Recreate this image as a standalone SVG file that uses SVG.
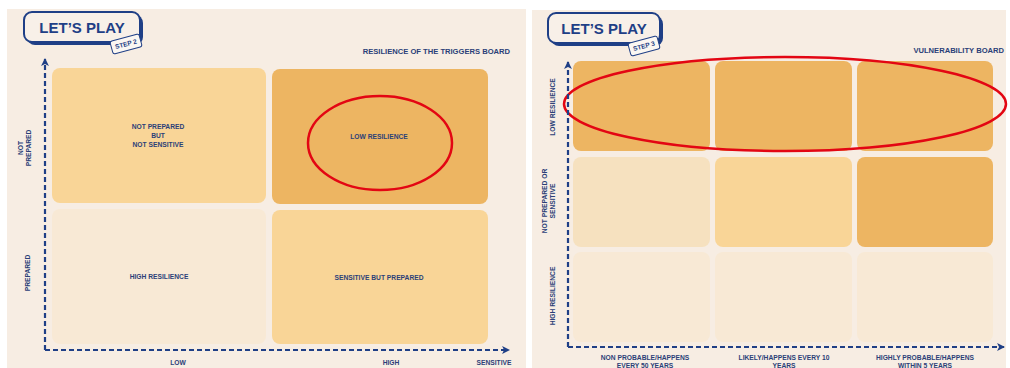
<svg xmlns="http://www.w3.org/2000/svg" width="1010" height="368" viewBox="0 0 1010 368">
<defs>
<style>
.panel{fill:#F7EDE3}
.dark{fill:#EDB562}
.mid{fill:#F9D597}
.light{fill:#F6E1BF}
.pale{fill:#F8E9D5}
.lbl{font-family:"Liberation Sans",Arial,sans-serif;font-weight:bold;font-size:6.7px;fill:#2B3F78;text-anchor:middle}
.title{font-family:"Liberation Sans",Arial,sans-serif;font-weight:bold;font-size:7.6px;fill:#2B3F78;text-anchor:end}
.badge{font-family:"Liberation Sans",Arial,sans-serif;font-weight:bold;font-size:15px;fill:#1F3F86;text-anchor:middle}
.step{font-family:"Liberation Sans",Arial,sans-serif;font-weight:bold;font-size:6.5px;fill:#1F3F86;text-anchor:middle}
.axis{fill:none;stroke:#1F3F86;stroke-width:2.2;stroke-dasharray:5 3}
.ring{fill:none;stroke:#E30613;stroke-width:2.5}
</style>
<marker id="arr" viewBox="0 0 10 10" refX="8" refY="5" markerWidth="4.5" markerHeight="4.5" orient="auto" markerUnits="strokeWidth">
<path d="M1,1 L9,5 L1,9 L3,5 Z" fill="#1F3F86"/>
</marker>
</defs>
<rect width="1010" height="368" fill="#FFFFFF"/>
<rect class="panel" x="7" y="9" width="519" height="359"/>
<rect class="panel" x="532" y="10" width="474" height="358"/>

<!-- Left panel -->
<g id="badge-left">
<rect x="27" y="15" width="116" height="30" rx="8" fill="#1F3F86"/>
<rect x="24" y="12" width="116" height="30" rx="8" fill="#F8F0E8" stroke="#1F3F86" stroke-width="2"/>
<text class="badge" x="82" y="33">LET’S PLAY</text>
<g transform="translate(126,44) rotate(-15)">
<rect x="-15" y="-6.5" width="30" height="13" rx="2" fill="#FBF7F2" stroke="#1F3F86" stroke-width="1"/>
<text class="step" x="0" y="2.3">STEP 2</text>
</g>
</g>
<text class="title" x="510" y="54">RESILIENCE OF THE TRIGGERS BOARD</text>

<g id="q-not-prepared-not-sensitive">
<rect class="mid" x="52" y="68" width="214" height="135" rx="8"/>
<text class="lbl" x="158" y="129">NOT PREPARED</text>
<text class="lbl" x="158" y="138">BUT</text>
<text class="lbl" x="158" y="147">NOT SENSITIVE</text>
</g>
<g id="q-low-resilience">
<rect class="dark" x="272" y="69" width="216" height="135" rx="8"/>
<text class="lbl" x="379" y="139">LOW RESILIENCE</text>
</g>
<g id="q-high-resilience">
<rect class="pale" x="52" y="209" width="214" height="135" rx="8"/>
<text class="lbl" x="159" y="279">HIGH RESILIENCE</text>
</g>
<g id="q-sensitive-but-prepared">
<rect class="mid" x="272" y="210" width="216" height="134" rx="8"/>
<text class="lbl" x="379" y="280">SENSITIVE BUT PREPARED</text>
</g>

<g id="left-axis-labels">
<text class="lbl" transform="translate(23,148) rotate(-90)">NOT</text>
<text class="lbl" transform="translate(31,148) rotate(-90)">PREPARED</text>
<text class="lbl" transform="translate(30,273) rotate(-90)">PREPARED</text>
<text class="lbl" x="178" y="365">LOW</text>
<text class="lbl" x="391" y="365">HIGH</text>
<text class="lbl" x="494" y="365">SENSITIVE</text>
</g>

<ellipse class="ring" cx="380" cy="143" rx="72" ry="47"/>

<!-- Right panel -->
<g id="badge-right">
<rect x="551" y="16" width="112" height="30" rx="8" fill="#1F3F86"/>
<rect x="548" y="13" width="112" height="30" rx="8" fill="#F8F0E8" stroke="#1F3F86" stroke-width="2"/>
<text class="badge" x="604" y="34">LET’S PLAY</text>
<g transform="translate(644,46) rotate(-15)">
<rect x="-15" y="-6.5" width="30" height="13" rx="2" fill="#FBF7F2" stroke="#1F3F86" stroke-width="1"/>
<text class="step" x="0" y="2.3">STEP 3</text>
</g>
</g>
<text class="title" x="1004" y="53">VULNERABILITY BOARD</text>

<g id="r1c1"><rect class="dark" x="573" y="61" width="137" height="90" rx="8"/></g>
<g id="r1c2"><rect class="dark" x="715" y="61" width="137" height="90" rx="8"/></g>
<g id="r1c3"><rect class="dark" x="857" y="61" width="136" height="90" rx="8"/></g>
<g id="r2c1"><rect class="light" x="573" y="157" width="137" height="90" rx="8"/></g>
<g id="r2c2"><rect class="mid" x="715" y="157" width="137" height="90" rx="8"/></g>
<g id="r2c3"><rect class="dark" x="857" y="157" width="136" height="90" rx="8"/></g>
<g id="r3c1"><rect class="pale" x="573" y="252" width="137" height="90" rx="8"/></g>
<g id="r3c2"><rect class="pale" x="715" y="252" width="137" height="90" rx="8"/></g>
<g id="r3c3"><rect class="pale" x="857" y="252" width="136" height="90" rx="8"/></g>

<g id="right-axis-labels">
<text class="lbl" transform="translate(555,107) rotate(-90)">LOW RESILIENCE</text>
<text class="lbl" transform="translate(547,201) rotate(-90)">NOT PREPARED OR</text>
<text class="lbl" transform="translate(555,201) rotate(-90)">SENSITIVE</text>
<text class="lbl" transform="translate(555,296) rotate(-90)">HIGH RESILIENCE</text>
<text class="lbl" x="645" y="360">NON PROBABLE/HAPPENS</text>
<text class="lbl" x="645" y="368">EVERY 50 YEARS</text>
<text class="lbl" x="784" y="360">LIKELY/HAPPENS EVERY 10</text>
<text class="lbl" x="784" y="368">YEARS</text>
<text class="lbl" x="925" y="360">HIGHLY PROBABLE/HAPPENS</text>
<text class="lbl" x="925" y="368">WITHIN 5 YEARS</text>
</g>

<ellipse class="ring" cx="785" cy="104" rx="221" ry="47"/>

<g id="connectors">
<path class="axis" d="M45,350 L45,59" marker-end="url(#arr)"/>
<path class="axis" d="M45,350 L509,350" marker-end="url(#arr)"/>
<path class="axis" d="M568,347 L568,62" marker-end="url(#arr)"/>
<path class="axis" d="M568,347 L1004,347" marker-end="url(#arr)"/>
</g>
</svg>
